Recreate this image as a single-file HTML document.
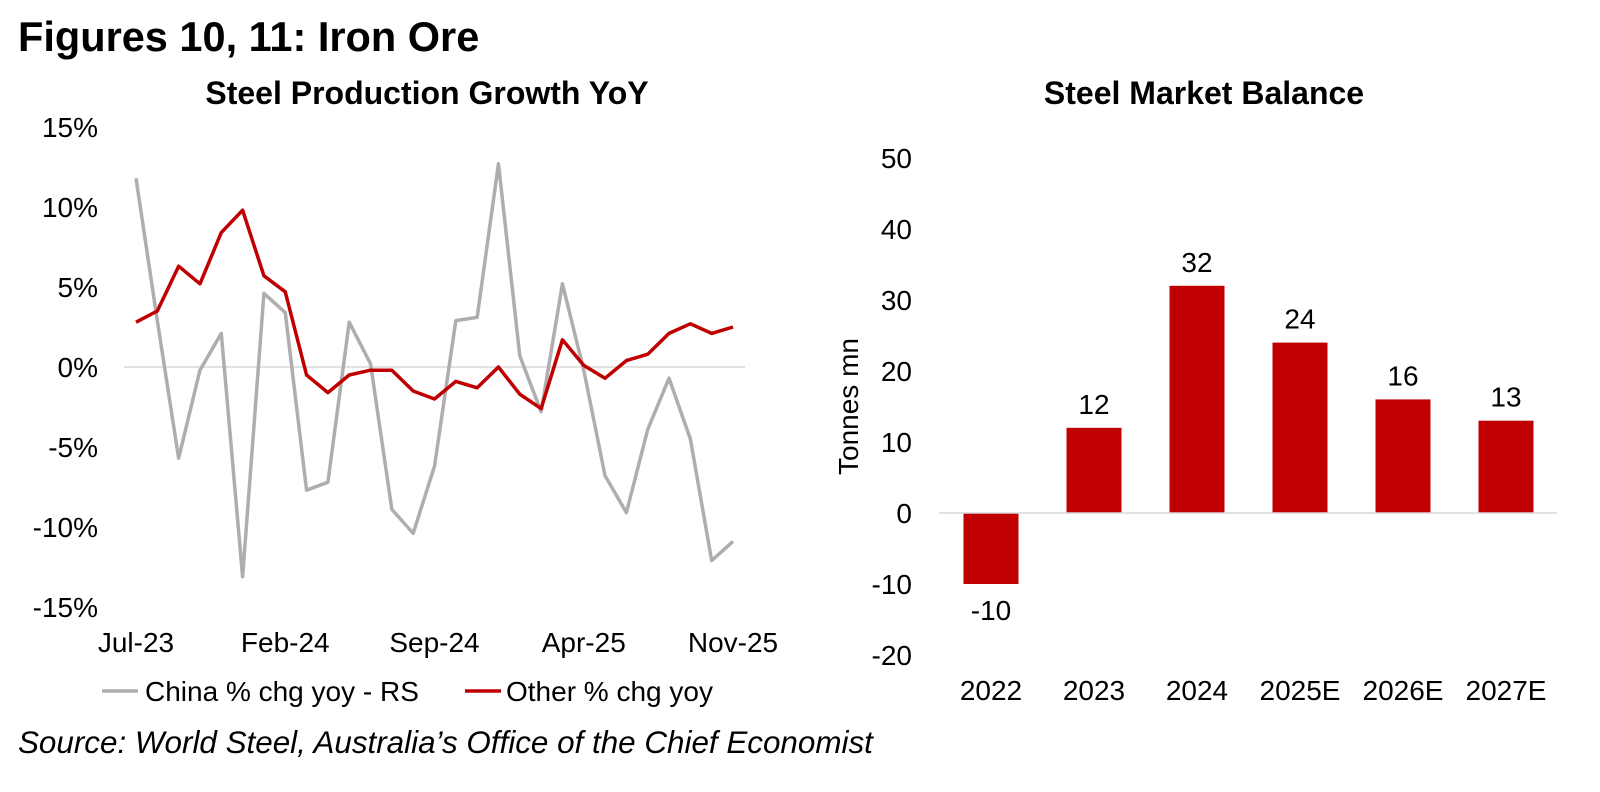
<!DOCTYPE html>
<html><head><meta charset="utf-8"><style>
body{margin:0;background:#fff;width:1600px;height:787px;overflow:hidden;font-family:"Liberation Sans",Arial,sans-serif}
svg text{font-family:"Liberation Sans",Arial,sans-serif;fill:#000}
</style></head><body>
<svg id="s" width="1600" height="787">
<text x="18" y="51" font-size="41.5" font-weight="bold">Figures 10, 11: Iron Ore</text>
<text x="427" y="104" font-size="32" font-weight="bold" text-anchor="middle">Steel Production Growth YoY</text>
<text x="1204" y="104" font-size="32" font-weight="bold" text-anchor="middle">Steel Market Balance</text>
<text x="18" y="753" font-size="31.4" font-style="italic">Source: World Steel, Australia’s Office of the Chief Economist</text>
<g id="left"></g><g id="right"></g>
</svg>
<script>
const months=["Jul-23","Aug-23","Sep-23","Oct-23","Nov-23","Dec-23","Jan-24","Feb-24","Mar-24","Apr-24","May-24","Jun-24","Jul-24","Aug-24","Sep-24","Oct-24","Nov-24","Dec-24","Jan-25","Feb-25","Mar-25","Apr-25","May-25","Jun-25","Jul-25","Aug-25","Sep-25","Oct-25","Nov-25"];
const chinaVals=[11.8,2.9,-5.7,-0.2,2.1,-13.1,4.6,3.4,-7.7,-7.2,2.8,0.2,-8.9,-10.4,-6.2,2.9,3.1,12.7,0.7,-2.8,5.2,-0.2,-6.8,-9.1,-3.9,-0.7,-4.5,-12.1,-10.9];
const otherVals=[2.8,3.5,6.3,5.2,8.4,9.8,5.7,4.7,-0.5,-1.6,-0.5,-0.2,-0.2,-1.5,-2.0,-0.9,-1.3,0,-1.7,-2.6,1.7,0.1,-0.7,0.4,0.8,2.1,2.7,2.1,2.5];
const pctTicks=[15,10,5,0,-5,-10,-15];
const xTickIdx=[0,7,14,21,28];
const years=["2022","2023","2024","2025E","2026E","2027E"];
const balance=[-10,12,32,24,16,13];
const balTicks=[50,40,30,20,10,0,-10,-20];
const NS="http://www.w3.org/2000/svg";
function mk(p,t,a,txt){const e=document.createElementNS(NS,t);for(const k in a)e.setAttribute(k,a[k]);if(txt!==undefined)e.textContent=txt;p.appendChild(e);return e;}
const L=document.getElementById('left');
const lx=i=>136+i*(733-136)/(months.length-1);
const ly=v=>367-v*16;
mk(L,'line',{x1:124,x2:745,y1:ly(0),y2:ly(0),stroke:'#d9d9d9','stroke-width':1.5});
pctTicks.forEach(t=>{const e=mk(L,'text',{x:98,y:ly(t)+10,'font-size':28,'text-anchor':'end'},t+'%');

});
xTickIdx.forEach(i=>{const e=mk(L,'text',{x:lx(i),y:652,'font-size':28,'text-anchor':'middle'},months[i]);

});
const g=mk(L,'polyline',{points:chinaVals.map((v,i)=>lx(i)+','+ly(v)).join(' '),fill:'none',stroke:'#b0adac','stroke-width':3.5,'stroke-linejoin':'round'});


const r=mk(L,'polyline',{points:otherVals.map((v,i)=>lx(i)+','+ly(v)).join(' '),fill:'none',stroke:'#c00000','stroke-width':3.5,'stroke-linejoin':'round'});


mk(L,'line',{x1:102,x2:138,y1:691,y2:691,stroke:'#b0adac','stroke-width':3.5});
const t1=mk(L,'text',{x:145,y:701,'font-size':28},'China % chg yoy - RS');


mk(L,'line',{x1:465,x2:501,y1:691,y2:691,stroke:'#c00000','stroke-width':3.5});
const t2=mk(L,'text',{x:506,y:701,'font-size':28},'Other % chg yoy');


const R=document.getElementById('right');
const by=v=>513-v*7.1;
const bx=i=>991+i*103;
balTicks.forEach(t=>{const e=mk(R,'text',{x:912,y:by(t)+10,'font-size':28,'text-anchor':'end'},String(t));

});
const yt=mk(R,'text',{x:0,y:0,'font-size':28,'text-anchor':'middle',transform:'translate(858,'+by(15)+') rotate(-90)'},'Tonnes mn');


balance.forEach((v,i)=>{const b=mk(R,'rect',{x:bx(i)-27.5,width:55,y:Math.min(by(v),by(0)),height:Math.abs(by(v)-by(0)),fill:'#c00000'});


const lb=mk(R,'text',{x:bx(i),y:v>=0?by(v)-14:by(v)+36,'font-size':28,'text-anchor':'middle'},String(v));


const xl=mk(R,'text',{x:bx(i),y:700,'font-size':28,'text-anchor':'middle'},years[i]);

});
mk(R,'line',{x1:939,x2:1557,y1:by(0),y2:by(0),stroke:'#d9d9d9','stroke-width':1.5});
</script>
</body></html>
